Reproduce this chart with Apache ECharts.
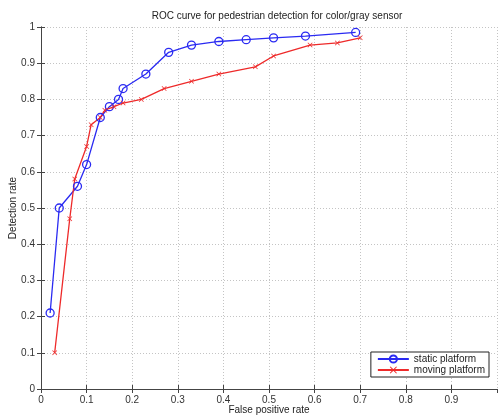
<!DOCTYPE html>
<html>
<head>
<meta charset="utf-8">
<script src="https://cdn.jsdelivr.net/npm/echarts@6/dist/echarts.min.js"></script>
<style>
  html, body { margin: 0; padding: 0; background: #fff; }
  #rocChart { width: 498px; height: 416px; }
</style>
</head>
<body>
<div id="rocChart"></div>
<script>
// values
const staticFpr = [0.02, 0.04, 0.08, 0.10, 0.13, 0.15, 0.17, 0.18, 0.23, 0.28, 0.33, 0.39, 0.45, 0.51, 0.58, 0.69]
const staticTpr = [0.21, 0.50, 0.56, 0.62, 0.75, 0.78, 0.80, 0.83, 0.87, 0.93, 0.95, 0.96, 0.965, 0.97, 0.975, 0.985]
const movingFpr = [0.03, 0.063, 0.074, 0.10, 0.11, 0.13, 0.14, 0.16, 0.18, 0.22, 0.27, 0.33, 0.39, 0.47, 0.51, 0.59, 0.65, 0.70]
const movingTpr = [0.10, 0.47, 0.58, 0.67, 0.73, 0.75, 0.77, 0.78, 0.79, 0.80, 0.83, 0.85, 0.87, 0.89, 0.92, 0.95, 0.956, 0.97]
const seriesNames = ['static platform', 'moving platform']

const pair = (xs, ys) => xs.map((x, i) => [x, ys[i]])
const crossPath = 'path://M0,1L1,0L5,4L9,0L10,1L6,5L10,9L9,10L5,6L1,10L0,9L4,5Z'
const font = 'Liberation Sans, Arial, sans-serif'

const axisBase = {
  type: 'value',
  min: 0,
  max: 1,
  interval: 0.1,
  axisLine: { show: true, lineStyle: { color: '#444', width: 1 } },
  axisTick: { show: true, inside: true, length: 4, lineStyle: { color: '#444' } }
}

let chart = echarts.init(document.getElementById('rocChart'))
chart.setOption({
  animation: false,
  backgroundColor: '#fff',
  title: {
    text: 'ROC curve for pedestrian detection for color/gray sensor',
    left: 272,
    textAlign: 'center',
    top: 6,
    textStyle: { fontSize: 10, fontWeight: 'normal', color: '#222', fontFamily: font }
  },
  grid: { left: 41, top: 27, right: 1, bottom: 27, outerBoundsMode: 'none' },
  legend: {
    data: seriesNames,
    orient: 'vertical',
    right: 9,
    bottom: 39,
    backgroundColor: '#fff',
    borderColor: '#222',
    borderWidth: 1,
    borderRadius: 0,
    padding: [2, 4, 2, 6],
    itemGap: 1,
    itemWidth: 31,
    itemHeight: 9,
    textStyle: { fontSize: 10, color: '#222', fontFamily: font }
  },
  xAxis: [
    Object.assign({}, axisBase, {
      position: 'bottom',
      name: 'False positive rate',
      nameLocation: 'middle',
      nameMoveOverlap: false,
      nameGap: 16,
      nameTextStyle: { fontSize: 10, color: '#222', fontFamily: font },
      axisLabel: { fontSize: 10, color: '#333', margin: 6, fontFamily: font, showMaxLabel: false },
      splitLine: { show: true, lineStyle: { color: '#c4c4c4', type: [1, 2], width: 1 } }
    }),
    Object.assign({}, axisBase, {
      position: 'top',
      axisLabel: { show: false },
      splitLine: { show: false }
    })
  ],
  yAxis: [
    Object.assign({}, axisBase, {
      position: 'left',
      name: 'Detection rate',
      nameLocation: 'middle',
      nameMoveOverlap: false,
      nameGap: 23,
      nameTextStyle: { fontSize: 10, color: '#222', fontFamily: font },
      axisLabel: { fontSize: 10, color: '#333', margin: 6, fontFamily: font },
      splitLine: { show: true, lineStyle: { color: '#c4c4c4', type: [1, 2], width: 1 } }
    }),
    Object.assign({}, axisBase, {
      position: 'right',
      axisLabel: { show: false },
      splitLine: { show: false }
    })
  ],
  series: [
    {
      name: seriesNames[0],
      type: 'line',
      symbol: 'circle',
      symbolSize: 8,
      lineStyle: { color: '#2a2af2', width: 1.3 },
      itemStyle: { color: 'rgba(255,255,255,0)', borderColor: '#2a2af2', borderWidth: 1.3 },
      data: pair(staticFpr, staticTpr)
    },
    {
      name: seriesNames[1],
      type: 'line',
      symbol: crossPath,
      symbolSize: 5,
      lineStyle: { color: '#ee2a2a', width: 1.3 },
      itemStyle: { color: '#ee2a2a' },
      data: pair(movingFpr, movingTpr)
    }
  ]
})
</script>
</body>
</html>
